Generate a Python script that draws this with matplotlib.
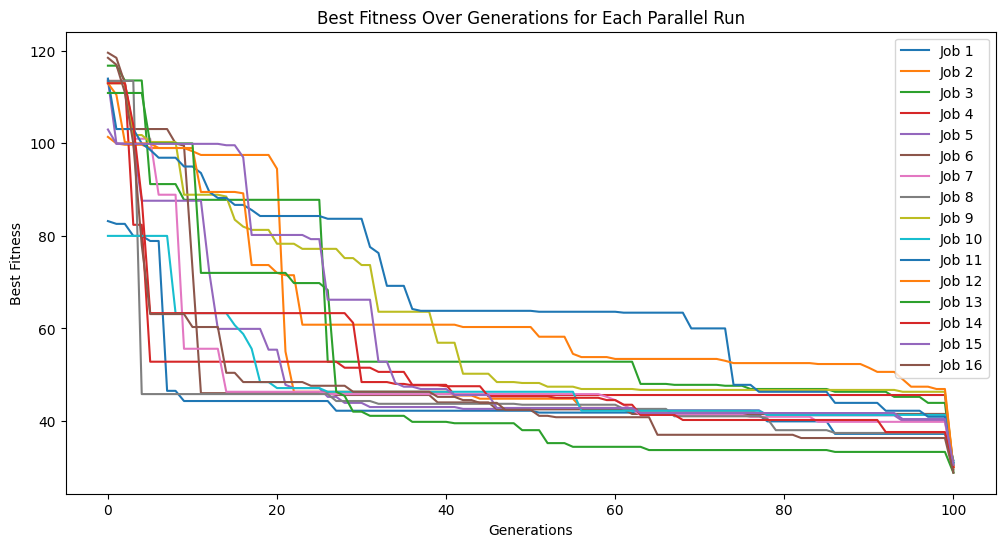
import matplotlib
matplotlib.use("Agg")
import matplotlib.pyplot as plt
import numpy as np

# best fitness per run, given as (generation where value starts, value) steps
generations = np.arange(101)

job1 = [(0, 83.2), (1, 82.6), (3, 80.0), (5, 78.9), (7, 46.5), (9, 44.3), (27, 42.2), (51, 41.8),
        (64, 41.3), (78, 39.9), (86, 37.2), (100, 31.5)]
job2 = [(0, 101.4), (1, 100.0), (2, 99.7), (5, 99.0), (10, 98.3), (11, 97.5), (20, 94.5), (21, 55.0),
        (22, 46.3), (41, 45.5), (44, 44.8), (56, 42.8), (63, 42.2), (77, 41.5), (100, 30.5)]
job3 = [(0, 116.8), (2, 113.6), (5, 91.2), (9, 87.8), (26, 52.8), (63, 48.0), (67, 47.8), (73, 47.6),
        (76, 46.9), (86, 46.3), (93, 45.2), (97, 43.9), (100, 29.0)]
job4 = [(0, 113.5), (3, 82.4), (5, 52.8), (28, 51.5), (32, 50.6), (36, 47.8), (41, 45.6), (100, 30.0)]
job5 = [(0, 113.7), (1, 100.0), (4, 87.6), (12, 72.0), (13, 59.9), (19, 55.4), (21, 47.8), (22, 47.1),
        (26, 45.2), (28, 43.9), (31, 43.0), (42, 42.6), (63, 42.3), (78, 41.2), (94, 40.0), (100, 30.5)]
job6 = [(0, 119.6), (1, 118.5), (2, 113.0), (3, 103.1), (8, 100.0), (9, 99.5), (10, 73.0), (11, 46.0),
        (27, 45.6), (39, 44.0), (46, 42.5), (62, 41.5), (100, 29.5)]
job7 = [(0, 113.3), (3, 101.0), (6, 88.9), (9, 55.6), (14, 46.3), (26, 45.8), (59, 45.2), (60, 44.5),
        (61, 43.5), (62, 42.4), (63, 41.3), (76, 40.9), (84, 39.8), (100, 30.0)]
job8 = [(0, 113.5), (4, 45.8), (27, 44.3), (32, 43.7), (49, 43.5), (61, 42.6), (67, 41.0), (78, 40.5),
        (79, 38.0), (86, 37.4), (100, 31.0)]
job9 = [(0, 113.0), (3, 101.8), (5, 100.3), (9, 88.9), (14, 88.5), (15, 83.5), (16, 82.0), (17, 81.3),
        (20, 78.3), (23, 77.2), (28, 75.2), (30, 73.7), (32, 63.6), (39, 56.9), (42, 50.2), (46, 48.4),
        (49, 48.2), (52, 47.4), (56, 46.9), (63, 46.7), (94, 46.3), (100, 30.0)]
job10 = [(0, 80.0), (8, 63.3), (15, 60.7), (16, 58.8), (17, 55.6), (18, 48.4), (20, 47.1), (26, 46.3),
         (56, 42.2), (78, 41.3), (100, 31.0)]
job11 = [(0, 114.0), (1, 103.1), (4, 100.0), (5, 98.6), (6, 96.9), (9, 95.0), (11, 93.6), (12, 89.5),
         (13, 88.2), (15, 86.7), (17, 85.6), (18, 84.3), (26, 83.7), (31, 77.6), (32, 76.3), (33, 69.2),
         (36, 64.2), (37, 63.8), (51, 63.6), (61, 63.4), (69, 60.0), (74, 47.8), (77, 46.3), (86, 43.9),
         (92, 42.2), (97, 40.9), (100, 31.0)]
job12 = [(0, 113.0), (1, 110.5), (2, 100.3), (3, 100.0), (6, 99.0), (11, 89.5), (16, 89.2), (17, 73.7),
         (20, 72.0), (21, 71.5), (23, 60.8), (42, 60.3), (51, 58.2), (55, 54.5), (56, 53.8), (60, 53.4),
         (73, 53.0), (74, 52.5), (84, 52.3), (90, 51.5), (91, 50.6), (94, 49.0), (95, 47.4), (98, 46.9),
         (100, 30.0)]
job13 = [(0, 110.9), (5, 100.0), (11, 72.0), (22, 69.8), (26, 68.3), (27, 46.3), (28, 45.4), (29, 42.0),
         (31, 41.1), (36, 39.8), (41, 39.5), (49, 38.0), (52, 35.2), (55, 34.4), (64, 33.7), (86, 33.3),
         (100, 28.8)]
job14 = [(0, 113.0), (3, 104.0), (4, 88.0), (5, 63.3), (29, 61.2), (30, 48.4), (34, 48.0), (36, 47.7),
         (40, 47.5), (45, 45.3), (53, 45.0), (59, 44.5), (61, 43.5), (63, 41.3), (68, 40.2), (92, 37.6),
         (100, 30.0)]
job15 = [(0, 103.0), (1, 99.9), (14, 99.6), (16, 97.0), (17, 80.2), (24, 79.3), (26, 66.2), (32, 52.8),
         (34, 48.2), (35, 47.4), (37, 46.9), (41, 45.6), (46, 42.8), (63, 41.7), (94, 40.4), (100, 30.5)]
job16 = [(0, 118.5), (1, 117.0), (2, 111.0), (3, 100.0), (4, 78.0), (5, 63.1), (10, 60.3), (14, 50.4),
         (16, 48.4), (24, 47.6), (29, 46.3), (39, 45.2), (42, 44.5), (44, 43.9), (47, 42.4), (51, 41.1),
         (53, 40.8), (65, 37.0), (82, 36.3), (100, 28.8)]

jobs = [job1, job2, job3, job4, job5, job6, job7, job8,
        job9, job10, job11, job12, job13, job14, job15, job16]


def hold(steps):
    # value stays the same until the next improvement
    vals = np.empty(len(generations))
    for start, v in steps:
        vals[start:] = v
    return vals


plt.figure(figsize=(12, 6))
for i, steps in enumerate(jobs):
    plt.plot(generations, hold(steps), label=f"Job {i + 1}")

plt.title("Best Fitness Over Generations for Each Parallel Run")
plt.xlabel("Generations")
plt.ylabel("Best Fitness")
plt.legend(loc="upper right")
plt.savefig("out.png", bbox_inches="tight")
